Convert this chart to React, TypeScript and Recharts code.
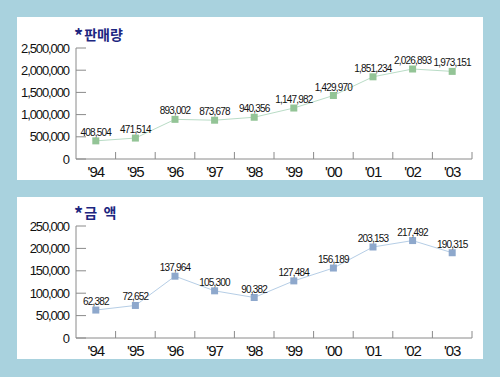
import { LineChart, Line, XAxis, YAxis, LabelList } from 'recharts';

const years = ["'94", "'95", "'96", "'97", "'98", "'99", "'00", "'01", "'02", "'03"];
const salesVolume = [408504, 471514, 893002, 873678, 940356, 1147982, 1429970, 1851234, 2026893, 1973151];
const salesAmount = [62382, 72652, 137964, 105300, 90382, 127484, 156189, 203153, 217492, 190315];
const volumeTicks = [0, 500000, 1000000, 1500000, 2000000, 2500000];
const amountTicks = [0, 50000, 100000, 150000, 200000, 250000];

const volumeData = years.map((year, i) => ({ year, value: salesVolume[i] }));
const amountData = years.map((year, i) => ({ year, value: salesAmount[i] }));

const FONT = "'Liberation Sans', Arial, sans-serif";
const AXIS = '#8a8a8a';
const fmt = (v: number) => v.toLocaleString('en-US');

const PANEL_W = 466;
const Y_W = 59;
const BAND = (PANEL_W - Y_W - 11) / years.length;

function YTick(props: any) {
  const { y, payload } = props;
  return (
    <g>
      <line x1={Y_W} x2={Y_W + 10} y1={y} y2={y} stroke={AXIS} />
      <text x={Y_W - 7} y={y} dy="0.36em" textAnchor="end" fontSize={13} letterSpacing={-1.1} fontFamily={FONT} fill="#111">
        {fmt(payload.value)}
      </text>
    </g>
  );
}

function makeXTick(axisY: number) {
  return (props: any) => {
    const { x, payload } = props;
    return (
      <g>
        <line x1={x + BAND / 2} x2={x + BAND / 2} y1={axisY} y2={axisY - 7} stroke={AXIS} />
        <text x={x} y={axisY + 18} textAnchor="middle" fontSize={15} letterSpacing={-1} fontFamily={FONT} fill="#111">
          {payload.value}
        </text>
      </g>
    );
  };
}

function Panel({ top, height, marginTop, title, data, ticks, max, line, marker }: any) {
  const xH = 21;
  const axisY = height - xH;
  return (
    <div style={{ position: 'absolute', left: 17, top, width: PANEL_W, height, background: '#fff' }}>
      <div
        style={{
          position: 'absolute',
          left: 57,
          top: marginTop - 26,
          fontFamily: "'Noto Sans CJK KR', sans-serif",
          fontWeight: 700,
          fontSize: 14,
          color: '#1c2680',
          whiteSpace: 'pre',
          lineHeight: '20px',
        }}
      >
        <span style={{ fontSize: 18, position: 'relative', top: 3, marginRight: 1 }}>*</span>
        {title}
      </div>
      <LineChart width={PANEL_W} height={height} data={data} margin={{ top: marginTop, right: 11, left: 0, bottom: 0 }}>
        <XAxis dataKey="year" scale="band" height={xH} stroke={AXIS} tickLine={false} tick={makeXTick(axisY)} interval={0} />
        <YAxis width={Y_W} domain={[0, max]} ticks={ticks} interval={0} stroke={AXIS} tickLine={false} tick={<YTick />} />
        <Line
          dataKey="value"
          stroke={line}
          strokeWidth={1}
          isAnimationActive={false}
          dot={(p: any) => <rect key={p.index} x={p.cx - 3.5} y={p.cy - 3.5} width={7} height={7} fill={marker} />}
        >
          <LabelList dataKey="value" position="top" offset={5} formatter={(v: any) => fmt(v)} fontSize={10} letterSpacing={-0.8} fontFamily={FONT} fill="#111" />
        </Line>
      </LineChart>
    </div>
  );
}

export default function App() {
  return (
    <div style={{ position: 'absolute', left: 0, top: 0, width: 500, height: 377, background: '#a9d2de' }}>
      <Panel top={17} height={163} marginTop={31} title="판매량" data={volumeData} ticks={volumeTicks} max={2500000} line="#b9dcc6" marker="#93c496" />
      <Panel top={197} height={162} marginTop={29} title="금  액" data={amountData} ticks={amountTicks} max={250000} line="#b6cee6" marker="#8ea8cc" />
    </div>
  );
}
